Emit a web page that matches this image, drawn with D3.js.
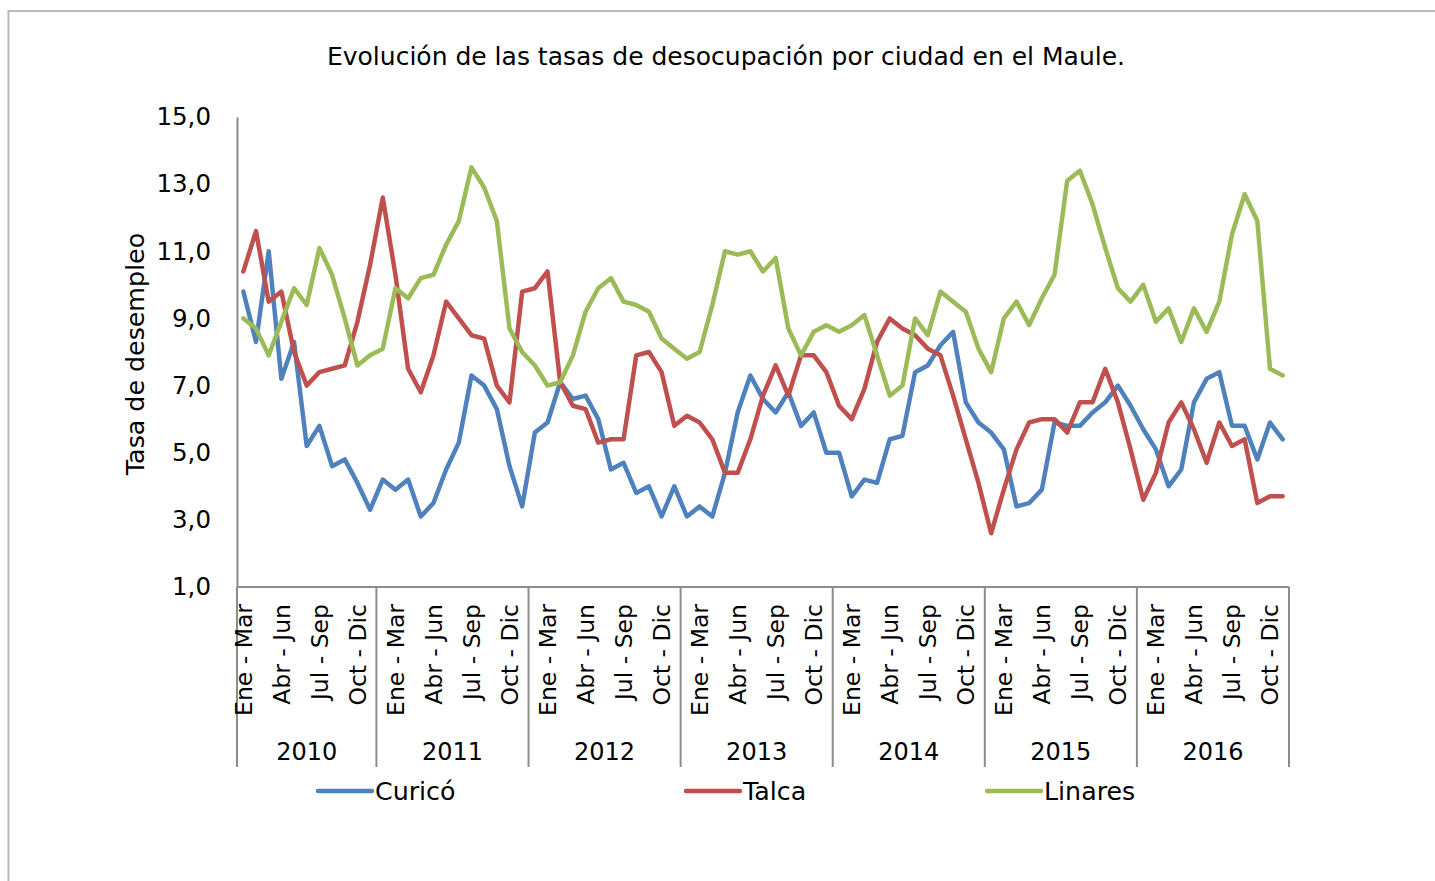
<!DOCTYPE html>
<html>
<head>
<meta charset="utf-8">
<script src="https://cdn.jsdelivr.net/npm/d3@7"></script>
<style>
  html, body { margin: 0; padding: 0; background: #fff; }
  svg { display: block; font-family: "DejaVu Sans", sans-serif; }
</style>
</head>
<body>
<svg id="chart" width="1435" height="881"></svg>
<script>
// ---------- data ----------
const years = [2010, 2011, 2012, 2013, 2014, 2015, 2016];
const periodsPerYear = [11, 12, 12, 12, 12, 12, 12];
const firstPeriodIndex = [1, 0, 0, 0, 0, 0, 0];
const quarterNames = ["Dic - Feb", "Ene - Mar", "Feb - Abr", "Mar - May", "Abr - Jun", "May - Jul",
                      "Jun - Ago", "Jul - Sep", "Ago - Oct", "Sep - Nov", "Oct - Dic", "Nov - Ene"];
const yTicks = [1, 3, 5, 7, 9, 11, 13, 15];
const seriesNames = ["Curicó", "Talca", "Linares"];
const seriesColors = ["#4F81BD", "#C0504D", "#9BBB59"];

const curico = [9.8, 8.3, 11.0, 7.2, 8.3, 5.2, 5.8, 4.6, 4.8, 4.1, 3.3,
  4.2, 3.9, 4.2, 3.1, 3.5, 4.5, 5.3, 7.3, 7.0, 6.3, 4.6, 3.4,
  5.6, 5.9, 7.1, 6.6, 6.7, 6.0, 4.5, 4.7, 3.8, 4.0, 3.1, 4.0,
  3.1, 3.4, 3.1, 4.4, 6.2, 7.3, 6.6, 6.2, 6.8, 5.8, 6.2, 5.0,
  5.0, 3.7, 4.2, 4.1, 5.4, 5.5, 7.4, 7.6, 8.2, 8.6, 6.5, 5.9,
  5.6, 5.1, 3.4, 3.5, 3.9, 5.9, 5.8, 5.8, 6.2, 6.5, 7.0, 6.4,
  5.7, 5.1, 4.0, 4.5, 6.5, 7.2, 7.4, 5.8, 5.8, 4.8, 5.9, 5.4];

const talca = [10.4, 11.6, 9.5, 9.8, 8.0, 7.0, 7.4, 7.5, 7.6, 8.9, 10.6,
  12.6, 10.3, 7.5, 6.8, 7.9, 9.5, 9.0, 8.5, 8.4, 7.0, 6.5, 9.8,
  9.9, 10.4, 7.1, 6.4, 6.3, 5.3, 5.4, 5.4, 7.9, 8.0, 7.4, 5.8,
  6.1, 5.9, 5.4, 4.4, 4.4, 5.4, 6.7, 7.6, 6.7, 7.9, 7.9, 7.4,
  6.4, 6.0, 6.9, 8.3, 9.0, 8.7, 8.5, 8.1, 7.9, 6.7, 5.4, 4.1,
  2.6, 3.9, 5.1, 5.9, 6.0, 6.0, 5.6, 6.5, 6.5, 7.5, 6.5, 5.1,
  3.6, 4.4, 5.9, 6.5, 5.7, 4.7, 5.9, 5.2, 5.4, 3.5, 3.7, 3.7];

const linares = [9.0, 8.7, 7.9, 8.9, 9.9, 9.4, 11.1, 10.3, 9.0, 7.6, 7.9,
  8.1, 9.9, 9.6, 10.2, 10.3, 11.2, 11.9, 13.5, 12.9, 11.9, 8.7, 8.0,
  7.6, 7.0, 7.1, 7.9, 9.2, 9.9, 10.2, 9.5, 9.4, 9.2, 8.4, 8.1,
  7.8, 8.0, 9.4, 11.0, 10.9, 11.0, 10.4, 10.8, 8.7, 7.9, 8.6, 8.8,
  8.6, 8.8, 9.1, 7.9, 6.7, 7.0, 9.0, 8.5, 9.8, 9.5, 9.2, 8.1,
  7.4, 9.0, 9.5, 8.8, 9.6, 10.3, 13.1, 13.4, 12.4, 11.1, 9.9, 9.5,
  10.0, 8.9, 9.3, 8.3, 9.3, 8.6, 9.5, 11.5, 12.7, 11.9, 7.5, 7.3];

// ---------- build categories ----------
const categories = [];
years.forEach((yr, yi) => {
  for (let k = 0; k < periodsPerYear[yi]; k++) {
    categories.push({ year: yr, label: quarterNames[(firstPeriodIndex[yi] + k) % 12] });
  }
});
const series = [curico, talca, linares];

// ---------- layout ----------
const svg = d3.select("#chart");
const plot = { left: 237, right: 1289, top: 117, bottom: 587 };
const axisColor = "#8c8c8c";
const fmt = v => d3.format(".1f")(v).replace(".", ",");

// frame
svg.append("rect")
  .attr("x", 8.5).attr("y", 11).attr("width", 1440).attr("height", 900)
  .attr("fill", "none").attr("stroke", "#b6bdb6").attr("stroke-width", 2);

// title
svg.append("text")
  .attr("x", 726).attr("y", 65)
  .attr("text-anchor", "middle")
  .attr("font-size", 25).attr("fill", "#000")
  .text("Evolución de las tasas de desocupación por ciudad en el Maule.");

const x = d3.scaleBand().domain(d3.range(categories.length)).range([plot.left, plot.right]);
const y = d3.scaleLinear().domain([1, 15]).range([plot.bottom, plot.top]);
const cx = i => x(i) + x.bandwidth() / 2;

// y axis
const yAxis = svg.append("g").attr("transform", `translate(${plot.left},0)`)
  .call(d3.axisLeft(y).tickValues(yTicks).tickFormat(fmt).tickSize(0).tickPadding(26));
yAxis.select(".domain").attr("stroke", axisColor).attr("stroke-width", 2);
yAxis.selectAll("text").attr("font-size", 24.5).attr("fill", "#000")
  .attr("font-family", "'DejaVu Sans', sans-serif");

// y axis title
svg.append("text")
  .attr("transform", "translate(144,354) rotate(-90)")
  .attr("text-anchor", "middle")
  .attr("font-size", 25.3).attr("fill", "#000")
  .text("Tasa de desempleo");

// x axis line
svg.append("line")
  .attr("x1", plot.left).attr("x2", plot.right)
  .attr("y1", plot.bottom).attr("y2", plot.bottom)
  .attr("stroke", axisColor).attr("stroke-width", 2);

// year dividers
let start = 0;
const yearBounds = [];
years.forEach((yr, yi) => {
  const s = start, e = start + periodsPerYear[yi] - 1;
  yearBounds.push({ yr, s, e });
  start += periodsPerYear[yi];
});
const dividerX = [plot.left].concat(yearBounds.map(b => x(b.e) + x.bandwidth()));
svg.append("g").selectAll("line").data(dividerX).join("line")
  .attr("x1", d => d).attr("x2", d => d)
  .attr("y1", plot.bottom).attr("y2", 767)
  .attr("stroke", axisColor).attr("stroke-width", 2);

// quarter labels (every third category)
svg.append("g").selectAll("text")
  .data(categories.map((c, i) => ({ c, i })).filter(d => d.i % 3 === 0))
  .join("text")
  .attr("transform", d => `translate(${cx(d.i)},604) rotate(-90)`)
  .attr("text-anchor", "end")
  .attr("dy", "0.36em")
  .attr("font-size", 23.5).attr("fill", "#000")
  .text(d => d.c.label);

// year labels
svg.append("g").selectAll("text").data(yearBounds).join("text")
  .attr("x", b => (x(b.s) + x(b.e) + x.bandwidth()) / 2)
  .attr("y", 760)
  .attr("text-anchor", "middle")
  .attr("font-size", 24).attr("fill", "#000")
  .text(b => b.yr);

// lines
const line = d3.line().x((d, i) => cx(i)).y(d => y(d));
svg.append("g").selectAll("path").data(series).join("path")
  .attr("d", d => line(d))
  .attr("fill", "none")
  .attr("stroke", (d, i) => seriesColors[i])
  .attr("stroke-width", 4.5)
  .attr("stroke-linejoin", "round")
  .attr("stroke-linecap", "round");

// legend
const legendX = [318, 686, 987];
const lg = svg.append("g").selectAll("g").data(seriesNames).join("g")
  .attr("transform", (d, i) => `translate(${legendX[i]},791)`);
lg.append("line").attr("x1", 0).attr("x2", 54).attr("y1", 0).attr("y2", 0)
  .attr("stroke", (d, i) => seriesColors[i]).attr("stroke-width", 4.5)
  .attr("stroke-linecap", "round");
lg.append("text").attr("x", 57).attr("dy", "0.36em")
  .attr("font-size", 25.3).attr("fill", "#000")
  .text(d => d);
</script>
</body>
</html>
